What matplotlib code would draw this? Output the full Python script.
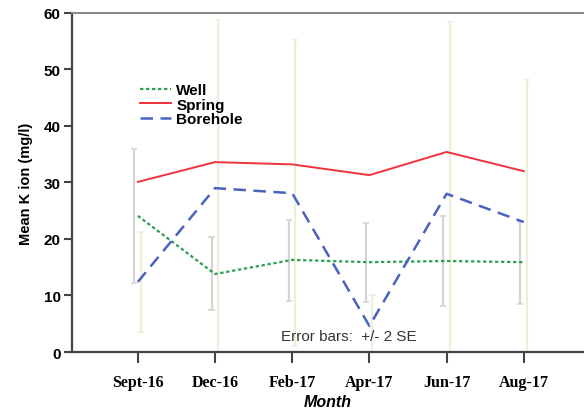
import matplotlib.pyplot as plt
import numpy as np

months = ["Sept-16", "Dec-16", "Feb-17", "Apr-17", "Jun-17", "Aug-17"]
well = [24.1, 13.8, 16.3, 15.9, 16.1, 15.9]
spring = [30.1, 33.6, 33.2, 31.3, 35.4, 32.0]
borehole = [12.4, 29.0, 28.1, 4.6, 28.0, 23.0]

# error bar ends (+/- 2 SE)
well_lo = [12.2, 7.4, 9.0, 8.8, 8.1, 8.5]
well_hi = [35.9, 20.3, 23.4, 22.8, 24.1, 23.0]
bore_lo = [3.5, -0.8, 1.1, -0.9, -2.4, -2.1]
bore_hi = [21.2, 58.8, 55.3, 10.1, 58.4, 48.1]

x = np.arange(len(months))

fig = plt.figure(figsize=(5.84, 4.10), dpi=100)
ax = fig.add_axes([0.123, 0.139, 0.877, 0.827])

# error bars
ax.vlines(x - 0.045, well_lo, well_hi, color="#d4d4d4", lw=1.6, zorder=1)
ax.hlines(well_lo + well_hi, np.r_[x, x] - 0.045 - 0.04, np.r_[x, x] - 0.045 + 0.04,
          color="#d4d4d4", lw=1.2, zorder=1)
ax.vlines(x + 0.04, bore_lo, bore_hi, color="#efeedb", lw=1.6, zorder=1)
ax.hlines(bore_lo + bore_hi, np.r_[x, x] + 0.04 - 0.04, np.r_[x, x] + 0.04 + 0.04,
          color="#efeedb", lw=1.2, zorder=1)

ax.plot(x, well, color="#2aa050", lw=1.6, ls=(0, (1.5, 1.2)), label="Well", zorder=3)
ax.plot(x, spring, color="#f2323c", lw=1.4, label="Spring", zorder=3)
ax.plot(x, borehole, color="#4a62c0", lw=1.8, ls=(0, (5, 3)), label="Borehole", zorder=3)

ax.set_xlim(-0.855, 5.78)
ax.set_ylim(0, 60)
ax.set_yticks(range(0, 61, 10))
ax.set_xticks(x)
ax.set_xticklabels(months, family="Liberation Serif", weight="bold", fontsize=11.5)
for t in ax.get_yticklabels():
    t.set_family("Liberation Sans")
    t.set_weight("bold")
    t.set_fontsize(11)
ax.tick_params(axis="x", length=8, width=1.5, color="#444444", pad=8)
ax.tick_params(axis="y", length=6, width=1.5, color="#444444", pad=2)

for s in ["left", "bottom"]:
    ax.spines[s].set_color("#444444")
    ax.spines[s].set_linewidth(1.6)
ax.spines["top"].set_color("#888888")
ax.spines["top"].set_linewidth(1.4)
ax.spines["right"].set_visible(False)

ax.set_ylabel("Mean K ion (mg/l)", family="Liberation Sans", weight="bold", fontsize=10.5)
ax.yaxis.set_label_coords(-0.075, 0.5)
ax.set_xlabel("Month", family="Liberation Sans", weight="bold", style="italic", fontsize=11.5)
ax.xaxis.set_label_coords(0.5, -0.125)

ax.text(2.73, 2.8, "Error bars:  +/- 2 SE", family="Liberation Sans", fontsize=11,
        color="#333333", ha="center", va="center")

leg = ax.legend(loc="upper left", bbox_to_anchor=(0.122, 0.81), frameon=False,
                prop={"family": "Liberation Sans", "weight": "bold", "size": 11},
                handlelength=2.0, handletextpad=0.35, labelspacing=0.02, borderaxespad=0)

fig.savefig("out.png", dpi=100)
